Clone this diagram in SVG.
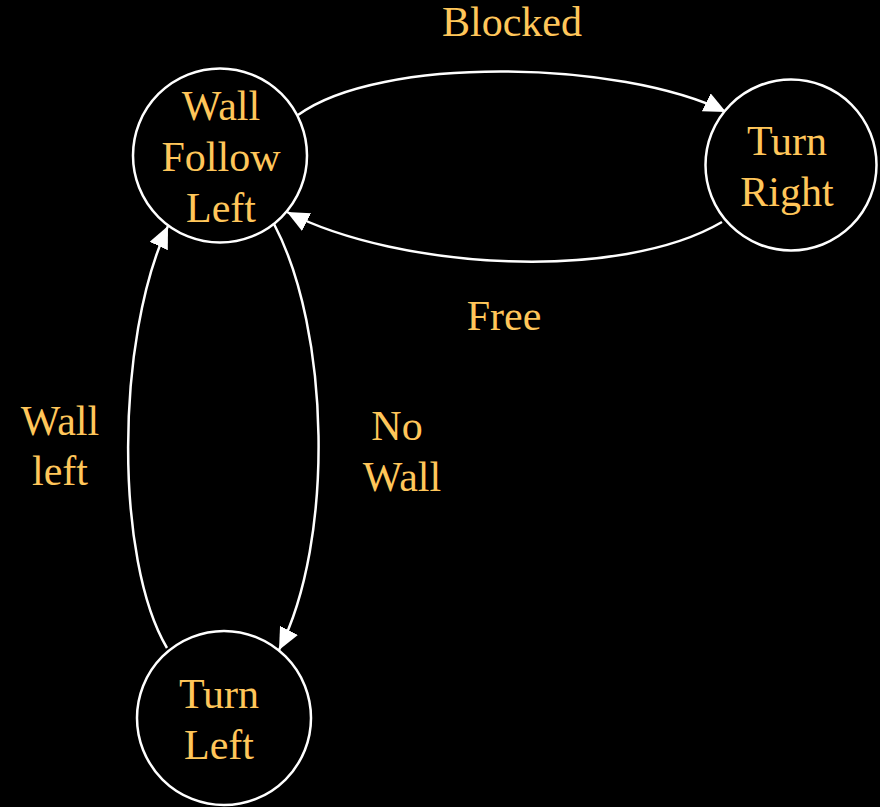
<svg xmlns="http://www.w3.org/2000/svg" width="880" height="807" viewBox="0 0 880 807">
<defs>
<marker id="arr" markerUnits="userSpaceOnUse" markerWidth="24" markerHeight="22" refX="22" refY="10" orient="auto">
<path d="M0,0 L22,10 L0,20 z" fill="#fff"/>
</marker>
<style>
.n{fill:#000;stroke:#fff;stroke-width:2.5}
.t{font-family:'Liberation Serif','Times New Roman',serif;font-size:42px;fill:#FFC65A;text-anchor:middle}
.e{fill:none;stroke:#fff;stroke-width:2.5;marker-end:url(#arr)}
</style>
</defs>
<rect width="880" height="807" fill="#000"/>
<g id="connectors">
<path class="e" d="M298,115 C380,55 620,60 726,112"/>
<path class="e" d="M722,222 C620,282 400,270 287,212"/>
<path class="e" d="M274,224 C330,330 335,540 279,650"/>
<path class="e" d="M167,648 C115,560 115,340 168,226"/>
</g>
<g id="wall-follow-left">
<circle class="n" cx="220" cy="155.5" r="87"/>
<text class="t" x="221" y="120">Wall</text>
<text class="t" x="221" y="171">Follow</text>
<text class="t" x="221" y="222">Left</text>
</g>
<g id="turn-right">
<circle class="n" cx="791" cy="165" r="85.5"/>
<text class="t" x="787" y="155">Turn</text>
<text class="t" x="787" y="206">Right</text>
</g>
<g id="turn-left">
<circle class="n" cx="224" cy="718" r="87"/>
<text class="t" x="219" y="708">Turn</text>
<text class="t" x="219" y="759">Left</text>
</g>
<g id="labels">
<text class="t" x="512" y="36">Blocked</text>
<text class="t" x="504" y="330">Free</text>
<text class="t" x="60" y="435">Wall</text>
<text class="t" x="60" y="485">left</text>
<text class="t" x="397" y="440">No</text>
<text class="t" x="402" y="491">Wall</text>
</g>
</svg>
